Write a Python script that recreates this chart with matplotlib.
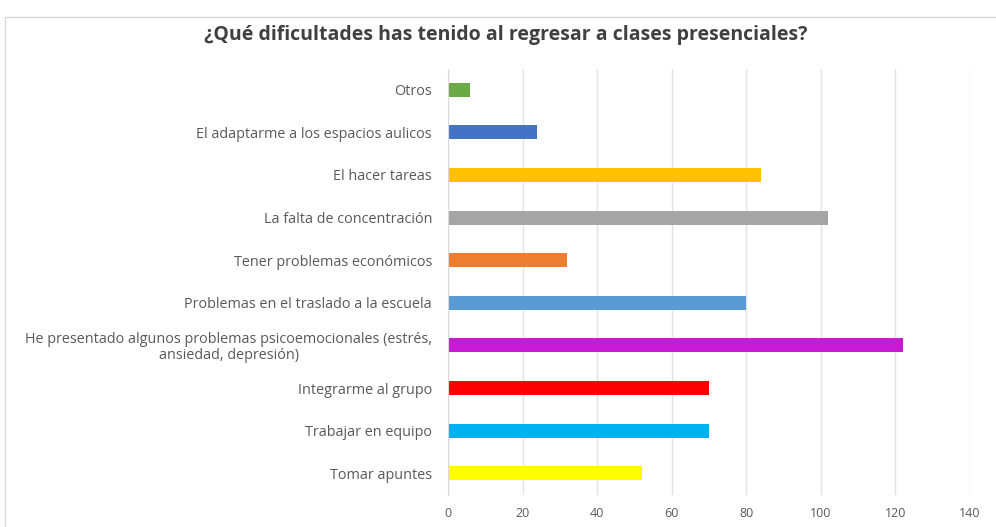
import matplotlib
matplotlib.use("Agg")
import matplotlib.pyplot as plt
import matplotlib.transforms as mtransforms
from matplotlib.patches import Rectangle

categories = [
    "Otros",
    "El adaptarme a los espacios aulicos",
    "El hacer tareas",
    "La falta de concentración",
    "Tener problemas económicos",
    "Problemas en el traslado a la escuela",
    "He presentado algunos problemas psicoemocionales (estrés,\nansiedad, depresión)",
    "Integrarme al grupo",
    "Trabajar en equipo",
    "Tomar apuntes",
]
values = [6, 24, 84, 102, 32, 80, 122, 70, 70, 52]
colors = ["#6AAB45", "#4472C4", "#FFC000", "#A5A5A5", "#ED7D31",
          "#5B9BD5", "#C61BD2", "#FF0000", "#00B0F0", "#FFFF00"]
xticks = [0, 20, 40, 60, 80, 100, 120, 140]
title = "¿Qué dificultades has tenido al regresar a clases presenciales?"

fig = plt.figure(figsize=(9.96, 5.27), dpi=100)
fig.patches.append(Rectangle((5/996, -0.01), 1.0, 1 - 17/527 + 0.01,
                             transform=fig.transFigure, fill=False,
                             edgecolor="#D9D9D9", linewidth=1.0))
ax = fig.add_axes([448/996, (527-494.5)/527, (970-448)/996, (494.5-68.5)/527])

n = len(categories)
ypos = list(range(n))[::-1]
ax.barh(ypos, values, height=0.33, color=colors, zorder=3)
ax.set_ylim(-0.5, n - 0.5)
ax.set_xlim(0, 140)
ax.set_xticks(xticks)
ax.set_xticklabels([str(t) for t in xticks])
ax.set_yticks(ypos)
ax.set_yticklabels([])
trans = mtransforms.blended_transform_factory(ax.transAxes, ax.transData)
offset = mtransforms.ScaledTranslation(-16/100, -2/100, fig.dpi_scale_trans)
for y, lab in zip(ypos, categories):
    ax.text(0, y, lab, transform=trans + offset, ha="right", va="center",
            multialignment="center", linespacing=1.15,
            fontfamily="Open Sans", fontsize=10.4, color="#595959")
for lab in ax.get_xticklabels():
    lab.set_fontfamily("Open Sans")
    lab.set_fontsize(9)
    lab.set_color("#595959")
ax.tick_params(axis="y", length=0)
ax.tick_params(axis="x", length=0, pad=9)
ax.grid(axis="x", color="#E3E3E3", linewidth=1.0, zorder=0)
for s in ["top", "right", "bottom"]:
    ax.spines[s].set_visible(False)
ax.spines["left"].set_color("#D9D9D9")
ax.spines["left"].set_zorder(4)

fig.text(0.5 + 8/996, 1 - 35/527, title, ha="center", va="center",
         fontfamily="Open Sans", fontweight="bold", fontsize=14, color="#404040")

fig.savefig("out.png", dpi=100)
